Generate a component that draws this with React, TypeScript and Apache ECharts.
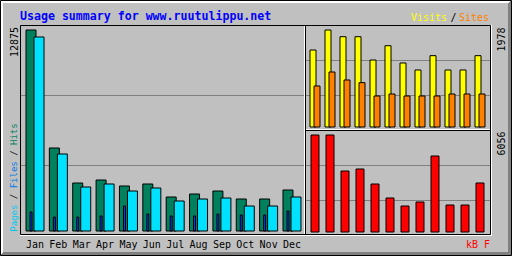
import React, { useEffect, useRef } from "react";
import * as echarts from "echarts";

const months = ["Jan", "Feb", "Mar", "Apr", "May", "Jun", "Jul", "Aug", "Sep", "Oct", "Nov", "Dec"];
const hits = [12875, 5354, 3123, 3314, 2932, 3060, 2231, 2422, 2613, 2103, 2103, 2677];
const files = [12429, 4972, 2868, 3060, 2613, 2805, 1976, 2103, 2167, 1657, 1657, 2231];
const pages = [1275, 956, 956, 1020, 1657, 1147, 1020, 1020, 1147, 1084, 1084, 1339];
const visits = [1574, 1978, 1843, 1843, 1372, 1661, 1312, 1171, 1460, 1171, 1171, 1460];
const sites = [848, 1130, 969, 915, 646, 686, 646, 646, 646, 686, 686, 686];
const kbytes = [6056, 6056, 3831, 3955, 3028, 2163, 1668, 1916, 4758, 1730, 1730, 3090];

const title = "Usage summary for www.ruutulippu.net";
const maxHits = 12875;
const maxVisits = 1978;
const maxKB = 6056;

const MONO = "'DejaVu Sans Mono', monospace";
const C = {
  bg: "#C0C0C0",
  hits: "#00805C",
  files: "#00E0FF",
  pages: "#0040FF",
  visits: "#FFFF00",
  sites: "#FF8000",
  kb: "#FF0000",
  grid: "#808080",
  dk: "#808080",
};

export default function App() {
  const ref = useRef<HTMLDivElement>(null);
  useEffect(() => {
    if (!ref.current) return;
    const chart = echarts.init(ref.current, undefined, { renderer: "svg" });

    const catAxis = (gridIndex: number, show = false) => ({
      type: "category",
      gridIndex,
      data: months,
      boundaryGap: true,
      show,
      axisLine: { show: false },
      axisTick: { show: false },
      splitLine: { show: false },
      axisLabel: {
        show,
        interval: 0,
        color: "#000",
        fontFamily: MONO,
        fontSize: 10,
        margin: 8,
      },
    });
    const valAxis = (gridIndex: number, max: number) => ({
      type: "value",
      gridIndex,
      min: 0,
      max,
      show: false,
      splitLine: { show: false },
    });
    const frameAxis = (gridIndex: number) => ({
      type: "value",
      gridIndex,
      min: 0,
      max: 3,
      interval: 1,
      show: true,
      axisLine: { show: false },
      axisTick: { show: false },
      axisLabel: { show: false },
      splitLine: { show: true, showMinLine: false, showMaxLine: false, lineStyle: { color: C.grid, width: 1 } },
    });
    const frameX = (gridIndex: number) => ({
      type: "value",
      gridIndex,
      min: 0,
      max: 1,
      show: false,
    });

    const mainTop = 29.5, mainH = 202;
    const bandW = 280.36;
    const mainLeft = 19.32;

    const grids = [
      { left: 21, top: 25.5, width: 283, height: 210 },
      { left: 306, top: 25.5, width: 184, height: 105 },
      { left: 306, top: 130.5, width: 184, height: 105 },
      { left: mainLeft, top: mainTop, width: bandW, height: mainH },
      { left: mainLeft + 8, top: mainTop, width: bandW, height: mainH },
      { left: mainLeft, top: mainTop, width: bandW, height: mainH },
      { left: mainLeft + 4, top: mainTop, width: bandW, height: mainH },
      { left: 305.5, top: 29.5, width: 180, height: 98 },
      { left: 309.5, top: 29.5, width: 180, height: 98 },
      { left: 307.5, top: 134.5, width: 180, height: 98 },
    ];

    const xAxis: any[] = [
      frameX(0), frameX(1), frameX(2),
      catAxis(3), catAxis(4), catAxis(5), catAxis(6, true),
      catAxis(7), catAxis(8), catAxis(9),
    ];
    const yAxis: any[] = [
      frameAxis(0), frameAxis(1), frameAxis(2),
      valAxis(3, maxHits), valAxis(4, maxHits), valAxis(5, maxHits), valAxis(6, maxHits),
      valAxis(7, maxVisits), valAxis(8, maxVisits), valAxis(9, maxKB),
    ];

    const bar = (name: string, idx: number, data: number[], color: string, width: number) => ({
      type: "bar",
      name,
      xAxisIndex: idx,
      yAxisIndex: idx,
      data,
      barWidth: width,
      itemStyle: { color, borderColor: "#000", borderWidth: 1 },
      silent: true,
    });

    const series = [
      bar("Hits", 3, hits, C.hits, 11),
      bar("Files", 4, files, C.files, 11),
      bar("Pages", 5, pages, C.pages, 3),
      bar("Visits", 7, visits, C.visits, 7),
      bar("Sites", 8, sites, C.sites, 7),
      bar("kB F", 9, kbytes, C.kb, 9),
    ];

    const ln = (x1: number, y1: number, x2: number, y2: number, stroke: string) => ({
      type: "line",
      shape: { x1, y1, x2, y2 },
      style: { stroke, lineWidth: 1 },
      z: 100,
      silent: true,
    });
    const txt = (text: string, x: number, y: number, fill: string, opts: any = {}) => ({
      type: "text",
      x,
      y,
      rotation: opts.rotation || 0,
      z: 100,
      silent: true,
      style: {
        text,
        fill,
        font: `${opts.bold ? "bold " : ""}${opts.size || 10}px ${opts.family || MONO}`,
        align: opts.align || "left",
        verticalAlign: "middle",
        rich: opts.rich,
      },
    });
    const up = Math.PI / 2;
    const legendFont = { fontFamily: MONO, fontSize: 9 };

    const graphic: any[] = [
      ln(1.5, 1, 1.5, 255, "#fff"),
      ln(2.5, 2, 2.5, 254, "#fff"),
      ln(1, 1.5, 511, 1.5, "#fff"),
      ln(2, 2.5, 510, 2.5, "#fff"),
      ln(510.5, 1, 510.5, 255, C.dk),
      ln(509.5, 2, 509.5, 254, C.dk),
      ln(508.5, 3, 508.5, 253, C.dk),
      ln(1, 254.5, 511, 254.5, C.dk),
      ln(2, 253.5, 510, 253.5, C.dk),
      ln(3, 252.5, 509, 252.5, C.dk),
      {
        type: "rect",
        shape: { x: 0.5, y: 0.5, width: 511, height: 255 },
        style: { fill: "none", stroke: "#000", lineWidth: 1 },
        z: 101,
        silent: true,
      },
      {
        type: "rect",
        shape: { x: 20.5, y: 25.5, width: 470, height: 209 },
        style: { fill: "none", stroke: "#000", lineWidth: 1 },
        z: 100,
        silent: true,
      },
      ln(491.5, 25, 491.5, 236, "#fff"),
      ln(20, 235.5, 492, 235.5, "#fff"),
      ln(305.5, 25, 305.5, 234, "#000"),
      ln(304.5, 26, 304.5, 234, "#fff"),
      ln(305, 130.5, 491, 130.5, "#000"),
      ln(306, 129.5, 490, 129.5, "#fff"),
      txt(title, 20, 15.5, "#0000FF", { bold: true, size: 11.6 }),
      txt("Visits", 411, 17, C.visits),
      txt("/", 453.5, 17, "#000", { align: "center" }),
      txt("Sites", 459, 17, C.sites),
      txt(String(maxHits), 14, 42, "#000", { rotation: up, align: "center" }),
      txt(String(maxVisits), 501, 39.5, "#000", { rotation: up, align: "center" }),
      txt(String(maxKB), 501, 143.5, "#000", { rotation: up, align: "center" }),
      txt("{p|Pages} {s|/} {f|Files} {s|/} {h|Hits}", 13.5, 177.5, "#000", {
        rotation: up,
        align: "center",
        size: 9,
        rich: {
          p: { ...legendFont, fill: "#00C8F0" },
          f: { ...legendFont, fill: "#0078E0" },
          h: { ...legendFont, fill: C.hits },
          s: { ...legendFont, fill: "#000" },
        },
      }),
      txt("kB F", 466, 244, C.kb),
    ];

    chart.setOption({
      animation: false,
      backgroundColor: C.bg,
      grid: grids,
      xAxis,
      yAxis,
      series,
      graphic,
    });
    return () => chart.dispose();
  }, []);

  return (
    <div
      ref={ref}
      style={{ position: "fixed", left: 0, top: 0, width: 512, height: 256 }}
    />
  );
}
